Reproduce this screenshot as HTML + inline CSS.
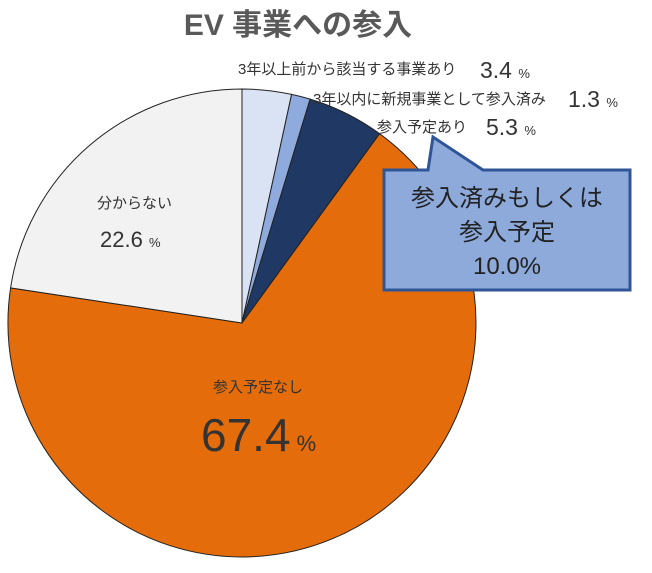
<!DOCTYPE html>
<html><head><meta charset="utf-8"><style>
body{margin:0;width:652px;height:568px;background:#fff;overflow:hidden}
svg{font-family:"Liberation Sans","Noto Sans CJK JP",sans-serif}
</style></head><body>
<svg width="652" height="568" viewBox="0 0 652 568">
<text x="298" y="35" text-anchor="middle" font-size="30" font-weight="bold" fill="#595959">EV 事業への参入</text>
<g stroke="#222" stroke-width="1">
<path d="M242,323 L242,89 A234,234 0 0 1 291.6,94.4 Z" fill="#dae3f3"/>
<path d="M242,323 L291.6,94.4 A234,234 0 0 1 310.1,99.1 Z" fill="#8faadc"/>
<path d="M242,323 L310.1,99.1 A234,234 0 0 1 379.6,133.7 Z" fill="#203864"/>
<path d="M242,323 L379.6,133.7 A234,234 0 1 1 10.6,287.9 Z" fill="#e46c0a"/>
<path d="M242,323 L10.6,287.9 A234,234 0 0 1 242,89 Z" fill="#f2f2f2"/>
</g>
<path d="M384,170 L428,170 L433,137 L483,170 L630,170 L630,290 L384,290 Z" fill="#8eaadb" stroke="#2f5597" stroke-width="3"/>
<g fill="#222" text-anchor="middle">
<text x="507" y="206" font-size="24">参入済みもしくは</text>
<text x="507" y="240" font-size="24">参入予定</text>
<text x="507" y="274" font-size="24">10.0%</text>
</g>
<g fill="#333">
<text x="238" y="74" font-size="15">3年以上前から該当する事業あり</text>
<text x="480" y="78" font-size="23">3.4 <tspan font-size="13">%</tspan></text>
<text x="313" y="104" font-size="15">3年以内に新規事業として参入済み</text>
<text x="568" y="107" font-size="23">1.3 <tspan font-size="13">%</tspan></text>
<text x="377" y="132" font-size="15">参入予定あり</text>
<text x="486" y="135" font-size="23">5.3 <tspan font-size="13">%</tspan></text>
<text x="97" y="208" font-size="15">分からない</text>
<text x="100" y="247" font-size="22">22.6 <tspan font-size="13">%</tspan></text>
<text x="213" y="392" font-size="15">参入予定なし</text>
<text x="201" y="451" font-size="46">67.4<tspan font-size="22"> %</tspan></text>
</g>
</svg>
</body></html>
